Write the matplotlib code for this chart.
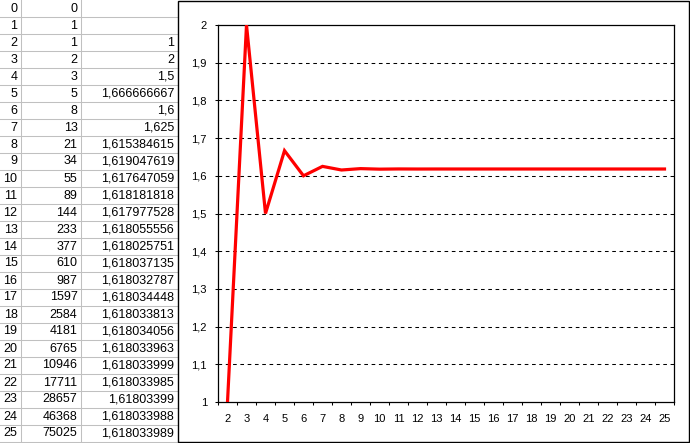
import numpy as np
import matplotlib
matplotlib.use("Agg")
import matplotlib.pyplot as plt
from matplotlib.patches import Rectangle

plt.rcParams['font.family'] = ['Liberation Sans', 'DejaVu Sans']

# spreadsheet data
n_values = list(range(26))
fib_values = [0, 1, 1, 2, 3, 5, 8, 13, 21, 34, 55, 89, 144, 233, 377, 610, 987,
              1597, 2584, 4181, 6765, 10946, 17711, 28657, 46368, 75025]
ratio_values = [None, None, 1, 2, 1.5, 1.666666667, 1.6, 1.625, 1.615384615,
                1.619047619, 1.617647059, 1.618181818, 1.617977528, 1.618055556,
                1.618025751, 1.618037135, 1.618032787, 1.618034448, 1.618033813,
                1.618034056, 1.618033963, 1.618033999, 1.618033985, 1.61803399,
                1.618033988, 1.618033989]

y_ticks = [1, 1.1, 1.2, 1.3, 1.4, 1.5, 1.6, 1.7, 1.8, 1.9, 2]


def excel_fmt(v):
    s = f"{v:.9f}".rstrip("0").rstrip(".")
    return s.replace(".", ",")


W, H = 690, 443
fig = plt.figure(figsize=(W / 100, H / 100), dpi=100)
fig.patch.set_facecolor("white")

# background axes in pixel coordinates for the sheet
bg = fig.add_axes([0, 0, 1, 1])
bg.set_xlim(0, W)
bg.set_ylim(H, 0)
bg.axis("off")

grid_col = "#c0c0c0"
row_h = 17
for k in range(1, 27):
    bg.plot([0, 178], [k * row_h, k * row_h], color=grid_col, lw=0.75)
for x in [21, 81]:
    bg.plot([x, x], [0, H], color=grid_col, lw=0.75)

for i, n in enumerate(n_values):
    yc = i * row_h + 8.5
    bg.text(17.5, yc, str(n), ha="right", va="center", fontsize=9)
    bg.text(77.5, yc, str(fib_values[i]), ha="right", va="center", fontsize=9)
    if ratio_values[i] is not None:
        bg.text(174, yc, excel_fmt(ratio_values[i]), ha="right", va="center",
                fontsize=9)

# chart area
bg.add_patch(Rectangle((178, 1), 511, 441, facecolor="white", edgecolor="black",
                       lw=1.0, zorder=3))

# plot area
left, right, top, bottom = 218, 674, 25, 402
ax = fig.add_axes([left / W, 1 - bottom / H, (right - left) / W, (bottom - top) / H])
ax.set_zorder(5)
ax.set_facecolor("white")

cats = n_values[2:]
vals = ratio_values[2:]
pos = np.arange(len(cats))
ax.plot(pos, vals, color="#ff0000", lw=2.3, solid_joinstyle="miter", zorder=4)

ax.set_xlim(-0.5, len(cats) - 0.5)
ax.set_ylim(1, 2)

ax.set_xticks(pos)
ax.set_xticklabels([str(c) for c in cats], fontsize=8)
ax.set_xticks(np.arange(-0.5, len(cats)), minor=True)
ax.tick_params(axis="x", which="major", length=0, pad=8.5)
ax.tick_params(axis="x", which="minor", length=2.5, width=0.75, direction="out")

ax.set_yticks(y_ticks)
ax.set_yticklabels([excel_fmt(t) for t in y_ticks], fontsize=8)
ax.tick_params(axis="y", length=2.5, width=0.75, direction="out", pad=5.5)

for t in y_ticks[1:-1]:
    ax.axhline(t, color="black", lw=0.75, ls=(0, (3.5, 3.5)), zorder=1)

for s in ax.spines.values():
    s.set_color("black")
    s.set_linewidth(0.9)

fig.savefig("out.png", dpi=100, facecolor="white")
